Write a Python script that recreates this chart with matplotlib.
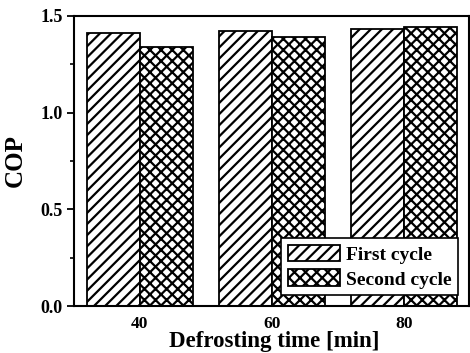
import numpy as np
import matplotlib
matplotlib.use('Agg')
import matplotlib.pyplot as plt
from matplotlib.ticker import MultipleLocator

# ======================
# DATA
# ======================
defrost_time = [40, 60, 80]
cop_first = [1.41, 1.42, 1.43]
cop_second = [1.34, 1.39, 1.44]
series_labels = ['First cycle', 'Second cycle']

plt.rcParams['font.family'] = ['Liberation Serif', 'DejaVu Serif']
plt.rcParams['font.weight'] = 'bold'
plt.rcParams['hatch.linewidth'] = 1.6

fig = plt.figure(figsize=(4.7, 3.53), dpi=100)
ax = fig.add_axes([0.157, 0.133, 0.841, 0.822])

x = np.array(defrost_time, dtype=float)
width = 8
ax.bar(x - width / 2, cop_first, width, facecolor='white', edgecolor='black',
       hatch='///', linewidth=1.3, label=series_labels[0])
ax.bar(x + width / 2, cop_second, width, facecolor='white', edgecolor='black',
       hatch='xxx', linewidth=1.3, label=series_labels[1])

ax.set_xlim(30, 89.8)
ax.set_ylim(0, 1.5)
ax.set_xticks(defrost_time)
ax.set_xticklabels([str(t) for t in defrost_time])
ax.yaxis.set_major_locator(MultipleLocator(0.5))
ax.yaxis.set_minor_locator(MultipleLocator(0.25))
ax.yaxis.set_major_formatter(plt.FormatStrFormatter('%.1f'))
ax.tick_params(axis='x', length=0, labelsize=12.5, pad=7)
ax.tick_params(axis='y', which='major', direction='out', length=5, width=1.3, labelsize=13, pad=3)
ax.tick_params(axis='y', which='minor', direction='out', length=3, width=1.2)

for s in ax.spines.values():
    s.set_linewidth(1.5)

ax.set_ylabel('COP', fontsize=18, fontweight='bold', labelpad=10)
# x label pinned to the bottom edge of the figure
ax.set_xlabel('Defrosting time [min]', fontsize=16.5, fontweight='bold', va='bottom')
ax.xaxis.set_label_coords(0.583, 0.004, transform=fig.transFigure)

leg = ax.legend(loc='lower right', fontsize=14, frameon=True, fancybox=False,
                edgecolor='black', framealpha=1, borderaxespad=0.55,
                handlelength=2.7, handleheight=0.95, handletextpad=0.3,
                labelspacing=0.3, borderpad=0.35)
leg.get_frame().set_linewidth(1.2)

fig.savefig('out.png', dpi=100)
